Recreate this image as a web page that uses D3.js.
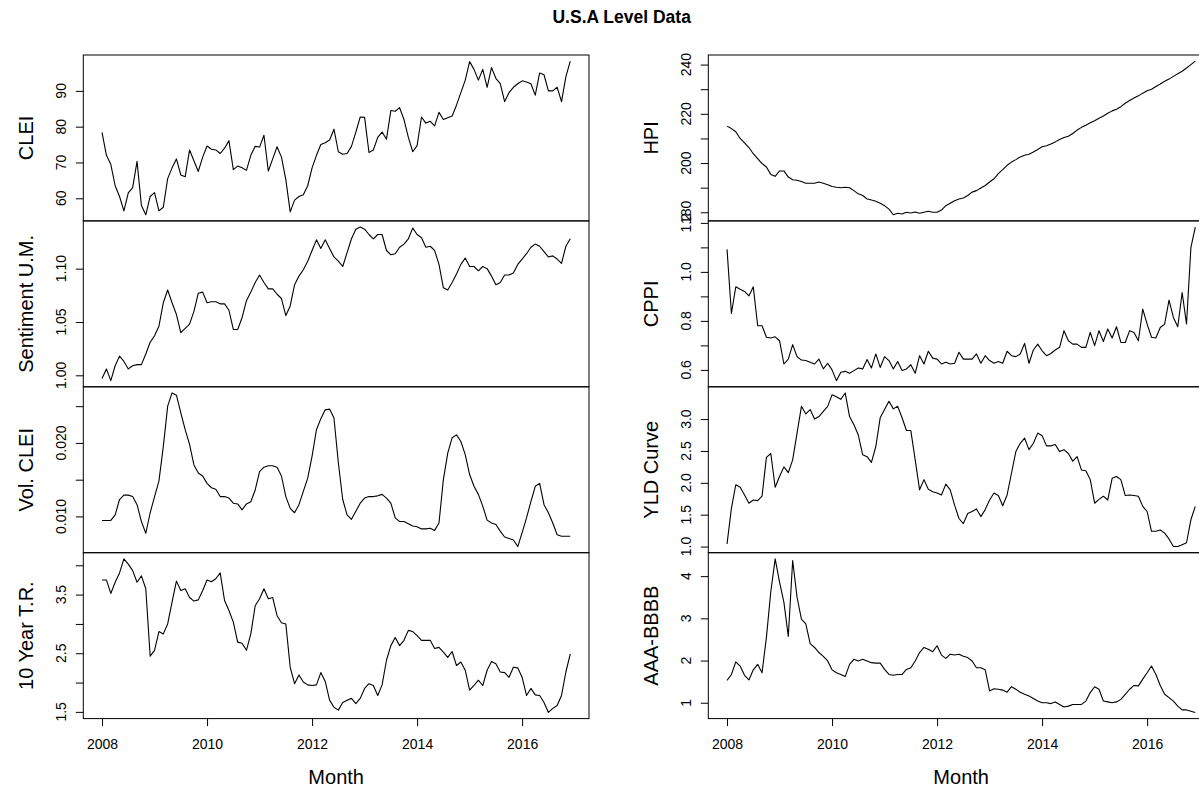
<!DOCTYPE html>
<html>
<head>
<meta charset="utf-8">
<script src="https://cdn.jsdelivr.net/npm/d3@7"></script>
<style>
  html, body { margin: 0; padding: 0; background: #fff; }
  svg { display: block; font-family: "Liberation Sans", Arial, sans-serif; }
</style>
</head>
<body>
<svg id="chart" width="1199" height="789"></svg>
<script>
/* monthly series, Jan 2008 .. Dec 2016 */
const startYear = 2008;
const nMonths = 108;

const clei = [78.4,72,69.5,63.5,60.5,56.5,61.5,63,70.3,58,
  55.4,60.5,61.6,56.5,57.5,65.5,68.5,71,66.5,66,
  73.5,70.5,67.5,71.5,74.6,73.7,73.5,72.5,74,76.1,
  68,69,68.5,67.8,72,74.5,74.3,77.6,67.6,71,
  74.4,71.5,65.2,56.2,59.5,60.5,61,63.5,68.5,72,
  75,75.5,76.3,79.3,73,72.3,72.5,74.5,78.5,82.7,
  82.6,72.8,73.5,77,78.5,76.5,84.5,84.3,85.3,82,
  77,73,74.7,82.7,81,81.5,80.2,84,82,82.5,
  83,86,89.5,93,98.2,96,93,96,91,96.5,
  93.5,92,87,89.5,91,92,92.8,92.5,92,88.8,
  95,94.5,90,90,91,87,94,98.3];

const sentiment = [0.997,1.006,0.995,1.009,1.018,1.013,1.006,1.009,1.010,1.010,
  1.020,1.031,1.037,1.046,1.068,1.080,1.068,1.057,1.040,1.044,
  1.048,1.060,1.077,1.078,1.068,1.069,1.069,1.067,1.067,1.061,
  1.043,1.043,1.054,1.070,1.078,1.087,1.094,1.087,1.081,1.081,
  1.076,1.072,1.056,1.065,1.085,1.093,1.099,1.107,1.117,1.127,
  1.119,1.127,1.119,1.111,1.107,1.102,1.115,1.128,1.137,1.139,
  1.137,1.132,1.128,1.132,1.132,1.117,1.113,1.114,1.120,1.123,
  1.128,1.138,1.132,1.129,1.120,1.121,1.117,1.104,1.082,1.080,
  1.087,1.095,1.104,1.110,1.102,1.102,1.098,1.102,1.100,1.093,
  1.085,1.087,1.094,1.094,1.096,1.104,1.109,1.114,1.120,1.123,
  1.121,1.116,1.111,1.112,1.109,1.105,1.121,1.128];

const volClei = [0.00945,0.00945,0.00945,0.0102,0.0123,0.0129,0.0129,0.0127,0.0116,0.0093,
  0.0077,0.0105,0.0127,0.0148,0.0195,0.0250,0.0268,0.0265,0.0241,0.0218,
  0.0198,0.0170,0.0159,0.0155,0.0145,0.0139,0.0137,0.0127,0.0127,0.0125,
  0.0118,0.0117,0.0109,0.0117,0.0120,0.0136,0.0161,0.0167,0.0169,0.0169,
  0.0167,0.0155,0.0127,0.0111,0.0105,0.0116,0.0134,0.0152,0.0182,0.0218,
  0.0233,0.0245,0.0246,0.0234,0.0173,0.0123,0.0102,0.0096,0.0107,0.0118,
  0.0125,0.0127,0.0127,0.0128,0.0130,0.0125,0.0118,0.0098,0.0093,0.0093,
  0.0090,0.0087,0.0086,0.0083,0.0083,0.0084,0.0081,0.0091,0.0150,0.0186,
  0.0207,0.0211,0.0202,0.0184,0.0157,0.0141,0.0130,0.0114,0.0095,0.0091,
  0.0089,0.0080,0.0072,0.0070,0.0068,0.0059,0.0078,0.0098,0.0120,0.0141,
  0.0145,0.0116,0.0105,0.0091,0.0075,0.0073,0.0073,0.0073];

const tenYear = [3.75,3.75,3.52,3.71,3.87,4.11,4.02,3.91,3.71,3.82,
  3.60,2.45,2.55,2.87,2.83,3.00,3.37,3.73,3.57,3.60,
  3.45,3.39,3.41,3.57,3.75,3.72,3.77,3.87,3.40,3.23,
  3.03,2.69,2.67,2.55,2.83,3.31,3.43,3.60,3.43,3.45,
  3.14,3.02,3.00,2.26,1.98,2.13,2.01,1.96,1.95,1.96,
  2.17,2.02,1.70,1.58,1.53,1.66,1.70,1.73,1.64,1.73,
  1.90,1.98,1.95,1.78,1.96,2.38,2.63,2.77,2.63,2.72,
  2.89,2.87,2.80,2.72,2.72,2.72,2.58,2.60,2.52,2.43,
  2.53,2.29,2.35,2.21,1.87,1.95,2.04,1.95,2.21,2.36,
  2.32,2.18,2.17,2.09,2.26,2.25,2.09,1.78,1.90,1.79,
  1.78,1.66,1.49,1.56,1.61,1.78,2.18,2.49];

const hpi = [215.0,214,212.7,210,208.2,206.3,203.8,201.8,199.8,198.4,
  195.4,194.6,196.8,196.8,194.3,193.2,193,192.5,191.8,191.8,
  191.8,192.3,191.8,191.2,190.5,190.2,190,190.2,190,188.8,
  187.5,186.8,185.4,185,184.5,183.7,182.7,181.3,179.0,179.6,
  179.3,180,179.7,180.1,179.6,180,180.4,180,180,180.9,
  182.7,183.7,184.7,185.4,185.8,186.8,188.2,188.8,189.9,190.9,
  192.3,193.6,195.7,197.3,199.1,200.4,201.4,202.5,203.2,203.6,
  204.5,205.5,206.6,207,207.7,208.6,209.6,210.4,210.9,212,
  213.4,214.5,215.4,216.4,217.2,218.2,219.1,220.2,221.2,221.9,
  222.9,224.3,225.4,226.4,227.3,228.4,229.4,230,231.1,232.1,
  233.2,234.1,235.2,236.3,237.3,238.6,240,241.4];

const cppi = [1.092,0.830,0.939,0.929,0.920,0.902,0.939,0.780,0.780,0.733,
  0.730,0.735,0.719,0.624,0.644,0.703,0.654,0.640,0.638,0.631,
  0.624,0.644,0.604,0.627,0.600,0.556,0.590,0.594,0.586,0.597,
  0.608,0.604,0.642,0.608,0.665,0.610,0.654,0.638,0.604,0.634,
  0.597,0.604,0.621,0.586,0.658,0.624,0.676,0.648,0.644,0.624,
  0.631,0.624,0.627,0.672,0.644,0.644,0.644,0.665,0.627,0.658,
  0.638,0.627,0.634,0.627,0.676,0.658,0.654,0.665,0.708,0.627,
  0.681,0.705,0.678,0.658,0.667,0.681,0.692,0.760,0.719,0.705,
  0.705,0.692,0.692,0.753,0.699,0.760,0.716,0.767,0.730,0.776,
  0.712,0.712,0.760,0.753,0.719,0.848,0.787,0.733,0.730,0.773,
  0.787,0.885,0.814,0.776,0.916,0.787,1.099,1.183];

const yldCurve = [1.04,1.60,1.97,1.93,1.81,1.68,1.73,1.72,1.79,2.40,
  2.46,1.93,2.10,2.25,2.16,2.36,2.78,3.20,3.08,3.15,
  3.00,3.04,3.12,3.20,3.38,3.35,3.31,3.41,3.04,2.91,
  2.75,2.44,2.41,2.32,2.57,3.02,3.15,3.28,3.16,3.20,
  3.02,2.82,2.82,2.36,1.89,2.05,1.90,1.86,1.84,1.81,
  1.98,1.89,1.65,1.44,1.36,1.52,1.55,1.59,1.47,1.58,
  1.73,1.84,1.80,1.64,1.81,2.15,2.49,2.62,2.70,2.52,
  2.62,2.78,2.74,2.58,2.58,2.60,2.49,2.52,2.46,2.34,
  2.41,2.20,2.19,2.05,1.68,1.74,1.79,1.73,2.07,2.10,
  2.05,1.80,1.81,1.80,1.79,1.63,1.55,1.24,1.24,1.26,
  1.21,1.12,1.00,1.00,1.03,1.06,1.42,1.63];

const aaaBbb = [1.53,1.67,1.97,1.87,1.65,1.54,1.78,1.91,1.71,2.55,
  3.63,4.41,3.86,3.38,2.57,4.37,3.50,2.98,2.87,2.40,
  2.31,2.19,2.10,1.99,1.78,1.71,1.67,1.62,1.91,2.03,
  1.99,2.03,1.99,1.95,1.94,1.94,1.79,1.67,1.65,1.67,
  1.67,1.79,1.83,1.99,2.19,2.31,2.27,2.21,2.35,2.13,
  2.05,2.15,2.13,2.15,2.10,2.07,1.99,1.83,1.83,1.78,
  1.28,1.33,1.32,1.30,1.25,1.38,1.32,1.25,1.20,1.16,
  1.10,1.04,1.00,1.00,0.98,1.02,0.96,0.90,0.92,0.96,
  0.96,0.96,1.04,1.24,1.38,1.32,1.04,1.02,1.00,1.02,
  1.08,1.20,1.32,1.41,1.40,1.56,1.71,1.87,1.67,1.41,
  1.20,1.12,1.04,0.92,0.83,0.83,0.80,0.77];

// tick values and which of them carry a label
const cleiTicks = [60, 70, 80, 90],            cleiLabels = [60, 70, 80, 90];
const sentTicks = [1.00, 1.05, 1.10],          sentLabels = [1.00, 1.05, 1.10];
const volTicks = [0.010, 0.015, 0.020, 0.025], volLabels = [0.010, 0.020];
const tenTicks = [1.5, 2, 2.5, 3, 3.5, 4],     tenLabels = [1.5, 2.5, 3.5];
const hpiTicks = [180, 190, 200, 210, 220, 230, 240], hpiLabels = [180, 200, 220, 240];
const cppiTicks = [0.6, 0.7, 0.8, 0.9, 1.0, 1.1, 1.2], cppiLabels = [0.6, 0.8, 1.0, 1.2];
const yldTicks = [1.0, 1.5, 2.0, 2.5, 3.0],    yldLabels = [1.0, 1.5, 2.0, 2.5, 3.0];
const aaaTicks = [1, 2, 3, 4],                 aaaLabels = [1, 2, 3, 4];
const xTicks = [2008, 2010, 2012, 2014, 2016];

const panels = [
  { col: 0, row: 0, name: "CLEI", values: clei, ticks: cleiTicks, labels: cleiLabels, fmt: d3.format("d") },
  { col: 0, row: 1, name: "Sentiment U.M.", values: sentiment, ticks: sentTicks, labels: sentLabels, fmt: d3.format(".2f") },
  { col: 0, row: 2, name: "Vol. CLEI", values: volClei, ticks: volTicks, labels: volLabels, fmt: d3.format(".3f") },
  { col: 0, row: 3, name: "10 Year T.R.", values: tenYear, ticks: tenTicks, labels: tenLabels, fmt: d3.format(".1f") },
  { col: 1, row: 0, name: "HPI", values: hpi, ticks: hpiTicks, labels: hpiLabels, fmt: d3.format("d") },
  { col: 1, row: 1, name: "CPPI", values: cppi, ticks: cppiTicks, labels: cppiLabels, fmt: d3.format(".1f") },
  { col: 1, row: 2, name: "YLD Curve", values: yldCurve, ticks: yldTicks, labels: yldLabels, fmt: d3.format(".1f") },
  { col: 1, row: 3, name: "AAA-BBBB", values: aaaBbb, ticks: aaaTicks, labels: aaaLabels, fmt: d3.format("d") }
];

/* layout */
const colLeft = [83.3, 708.3];
const boxW = 505.7;
const panelTop = 55;
const panelH = 165.9;
const tickLen = 7.5;

const svg = d3.select("#chart");

svg.append("text")
  .attr("x", 621.7).attr("y", 22.7)
  .attr("text-anchor", "middle")
  .style("font-size", "17.5px").style("font-weight", "bold")
  .text("U.S.A Level Data");

const months = d3.range(nMonths).map(i => startYear + i / 12);
const xExt = d3.extent(months);
const xPad = (xExt[1] - xExt[0]) * 0.04;

const makeLine = (x, y) => d3.line().x((d, i) => x(months[i])).y(d => y(d));

panels.forEach(p => {
  const left = colLeft[p.col];
  const y0 = panelTop + p.row * panelH;

  const x = d3.scaleLinear()
    .domain([xExt[0] - xPad, xExt[1] + xPad])
    .range([left, left + boxW]);

  const ext = d3.extent(p.values);
  const yPad = (ext[1] - ext[0]) * 0.04;
  const y = d3.scaleLinear()
    .domain([ext[0] - yPad, ext[1] + yPad])
    .range([y0 + panelH, y0]);

  const g = svg.append("g");

  g.append("path")
    .datum(p.values)
    .attr("d", makeLine(x, y))
    .attr("fill", "none")
    .attr("stroke", "#000")
    .attr("stroke-width", 1.1)
    .attr("stroke-linejoin", "round");

  g.append("rect")
    .attr("x", left).attr("y", y0)
    .attr("width", boxW).attr("height", panelH)
    .attr("fill", "none").attr("stroke", "#000").attr("stroke-width", 1);

  // y ticks
  const ya = g.append("g")
    .attr("transform", `translate(${left},0)`)
    .call(d3.axisLeft(y).tickValues(p.ticks).tickSize(tickLen).tickSizeOuter(0).tickFormat(""));
  ya.select(".domain").remove();
  ya.selectAll("line").attr("stroke", "#000");

  // rotated tick labels (can spill over neighbouring panels, like the original)
  g.selectAll("text.ylab")
    .data(p.labels)
    .join("text")
    .attr("class", "ylab")
    .attr("transform", d => `translate(${left - 17.6},${y(d)}) rotate(-90)`)
    .attr("text-anchor", "middle")
    .style("font-size", "14px")
    .text(d => p.fmt(d));

  // axis title
  g.append("text")
    .attr("transform", `translate(${left - 50.8},${y0 + panelH / 2}) rotate(-90)`)
    .attr("text-anchor", "middle")
    .style("font-size", "20px")
    .text(p.name);

  if (p.row === 3) {
    const xa = g.append("g")
      .attr("transform", `translate(0,${y0 + panelH})`)
      .call(d3.axisBottom(x).tickValues(xTicks).tickSize(tickLen).tickSizeOuter(0).tickFormat(d3.format("d")));
    xa.select(".domain").remove();
    xa.selectAll("line").attr("stroke", "#000");
    xa.selectAll("text")
      .attr("y", 30.6).attr("dy", null)
      .attr("fill", "#000")
      .style("font-size", "14px")
      .style("font-family", "'Liberation Sans', Arial, sans-serif");

    g.append("text")
      .attr("x", left + boxW / 2)
      .attr("y", y0 + panelH + 65.5)
      .attr("text-anchor", "middle")
      .style("font-size", "20px")
      .text("Month");
  }
});
</script>
</body>
</html>
